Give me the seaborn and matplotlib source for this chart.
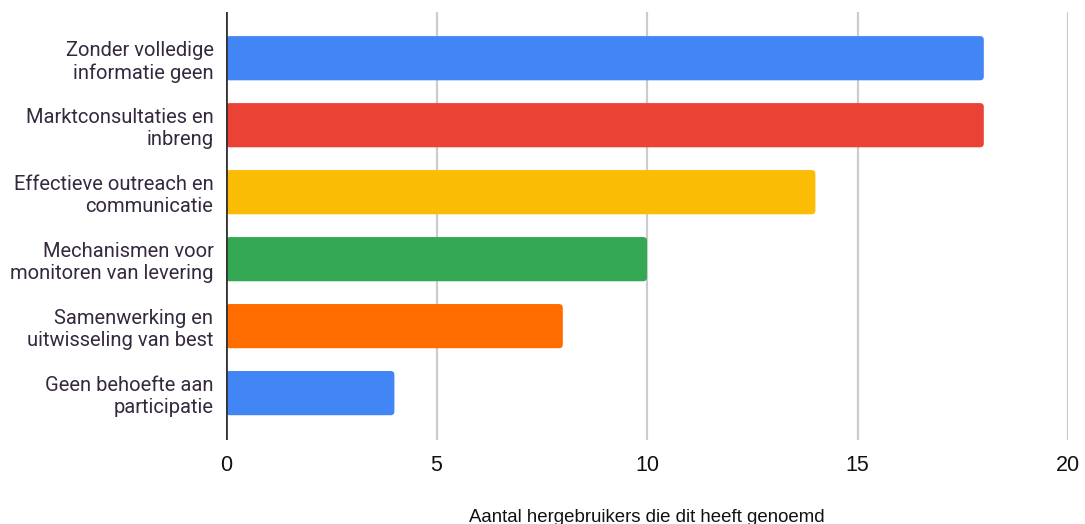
import matplotlib
matplotlib.use('Agg')
import matplotlib.pyplot as plt
import seaborn as sns
import pandas as pd
from matplotlib.patches import FancyBboxPatch

categories = [
    'Zonder volledige\ninformatie geen',
    'Marktconsultaties en\ninbreng',
    'Effectieve outreach en\ncommunicatie',
    'Mechanismen voor\nmonitoren van levering',
    'Samenwerking en\nuitwisseling van best',
    'Geen behoefte aan\nparticipatie',
]
counts = [18, 18, 14, 10, 8, 4]
bar_colors = ['#4285F4', '#EA4335', '#FBBC04', '#34A853', '#FF6D01', '#4285F4']
x_ticks = [0, 5, 10, 15, 20]
x_label = 'Aantal hergebruikers die dit heeft genoemd'

df = pd.DataFrame({'categorie': categories, 'aantal': counts})

sns.set_style('white')
plt.rcParams['font.family'] = ['Liberation Sans', 'DejaVu Sans']

fig = plt.figure(figsize=(10.85, 5.24), dpi=100)
ax = fig.add_axes([226 / 1085, 1 - 440 / 524, (1068 - 226) / 1085, (440 - 12) / 524])

sns.barplot(data=df, x='aantal', y='categorie', hue='categorie', palette=bar_colors,
            legend=False, width=0.66, saturation=1, ax=ax, zorder=3)

# swap the plain rectangles for slightly rounded ones
for p in list(ax.patches):
    x, y, w, h = p.get_x(), p.get_y(), p.get_width(), p.get_height()
    rb = FancyBboxPatch((x, y), w, h, boxstyle='round,pad=0,rounding_size=0.09',
                        mutation_aspect=0.63, facecolor=p.get_facecolor(),
                        edgecolor='none', zorder=3)
    p.remove()
    ax.add_patch(rb)

ax.set_xlim(0, 20)
ax.set_ylim(5.7, -0.69)
ax.set_xticks(x_ticks)
ax.set_xticklabels([str(t) for t in x_ticks], fontsize=15.5, color='#111111')
ax.tick_params(axis='x', length=0, pad=11)
ax.tick_params(axis='y', length=0, pad=9)
for lbl in ax.get_yticklabels():
    lbl.set_fontfamily(['Roboto', 'DejaVu Sans'])
    lbl.set_fontsize(14.5)
    lbl.set_color('#35293f')
    lbl.set_linespacing(1.22)

for t in x_ticks[1:]:
    ax.axvline(t, color='#cccccc', lw=1.6, zorder=1)
ax.axvline(0, color='#333333', lw=2, zorder=4)

for s in ax.spines.values():
    s.set_visible(False)
ax.set_xlabel('')
ax.set_ylabel('')

fig.text((226 + 1068) / 2 / 1085, 1 - 518 / 524, x_label, ha='center', va='center',
         fontsize=13.4, color='#111111')

fig.savefig('out.png', dpi=100)
